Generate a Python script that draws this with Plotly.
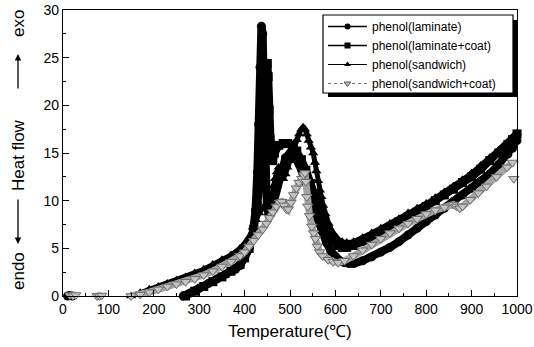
import plotly.graph_objects as go

# ---------------- data ----------------
lam_T = [265, 280, 300, 320, 340, 360, 380, 390, 400, 410, 418, 424, 428, 431, 434, 437, 440, 442, 444, 446,
         449, 453, 458, 465, 472, 480, 490, 500, 510, 520, 530, 540, 550, 560, 570, 580, 590, 600, 610, 620,
         630, 640, 660, 680, 700, 720, 740, 760, 780, 800, 820, 840, 860, 880, 900, 920, 940, 960, 980, 990, 1000]
lam_V = [0.0, 0.3, 0.8, 1.3, 1.8, 2.3, 2.8, 3.2, 4.0, 5.0, 6.5, 9.0, 13.0, 18.0, 24.0, 28.3, 27.5, 22.0, 16.0, 12.0,
         9.5, 8.6, 8.8, 10.0, 11.5, 13.0, 14.5, 15.0, 14.6, 13.8, 12.6, 11.3, 9.8, 8.2, 6.8, 5.6, 4.7, 4.1, 3.7, 3.5,
         3.4, 3.4, 3.7, 4.1, 4.6, 5.1, 5.7, 6.4, 7.1, 7.8, 8.5, 9.2, 9.9, 10.6, 11.3, 12.0, 12.8, 13.8, 14.9, 15.5, 16.3]

lamc_T = [270, 290, 310, 330, 350, 370, 390, 400, 410, 420, 428, 436, 441, 444, 447, 450, 452, 454, 456, 458,
          462, 466, 475, 485, 495, 505, 515, 525, 535, 545, 555, 565, 575, 585, 595, 605, 615, 625, 640, 660,
          680, 700, 720, 740, 760, 780, 800, 820, 840, 860, 880, 900, 920, 940, 960, 980, 990, 1000]
lamc_V = [0.0, 0.5, 1.0, 1.5, 2.0, 2.6, 3.3, 4.0, 5.0, 7.0, 9.5, 12.5, 16.0, 20.0, 23.5, 24.4, 23.0, 19.5, 16.5, 15.2,
          14.2, 15.0, 15.8, 16.0, 16.0, 15.8, 15.2, 14.3, 13.2, 11.8, 10.3, 8.8, 7.4, 6.4, 5.7, 5.3, 5.1, 5.1, 5.3, 5.7,
          6.2, 6.7, 7.2, 7.8, 8.3, 8.8, 9.4, 10.0, 10.6, 11.2, 11.9, 12.5, 13.3, 14.2, 15.0, 15.9, 16.4, 17.0]

sw_T = [150, 170, 190, 210, 230, 250, 270, 290, 310, 330, 350, 370, 390, 400, 410, 418, 425, 432, 440, 448,
        455, 460, 463, 467, 471, 475, 480, 485, 490, 494, 500, 505, 510, 515, 520, 525, 529, 533, 537, 541,
        546, 551, 555, 558, 562, 566, 569, 573, 578, 585, 595, 605, 615, 625, 640, 660, 680, 700, 720, 740,
        760, 780, 800, 820, 840, 860, 880, 900, 920, 940, 960, 980, 990, 1000]
sw_V = [0.0, 0.35, 0.7, 1.0, 1.3, 1.65, 2.0, 2.4, 2.8, 3.3, 3.8, 4.3, 5.0, 5.5, 6.2, 7.2, 8.0, 8.7, 9.2, 9.6,
        10.0, 10.5, 11.5, 12.3, 13.0, 13.5, 13.2, 12.3, 12.8, 13.5, 14.2, 14.9, 15.7, 16.4, 17.0, 17.5, 17.7, 17.5, 17.0, 16.3,
        15.6, 15.0, 14.0, 13.1, 12.1, 11.1, 10.4, 9.5, 8.6, 7.6, 6.6, 6.0, 5.7, 5.6, 5.7, 6.1, 6.6, 7.1, 7.6, 8.1,
        8.7, 9.2, 9.7, 10.3, 10.9, 11.5, 12.2, 12.9, 13.7, 14.5, 15.3, 16.1, 16.6, 17.1]

swc_T = [15, 22, 28, None, 75, 80, 85, None, 150, 170, 190, 210, 230, 250, 270, 290, 310, 330, 350, 370,
         390, 400, 410, 420, 430, 440, 448, 455, 462, 470, 477, 482, 487, 492, 496, 502, 508, 514, 520, 526,
         530, 533, 535, 537, 539, 543, 548, 552, 556, 560, 565, 572, 584, 595, 606, 620, 640, 660, 680, 700,
         720, 740, 760, 780, 800, 820, 840, 860, 867, 874, 880, 897, 915, 933, 955, 978, 990, None, 993]
swc_V = [0.1, 0.0, 0.1, None, 0.0, 0.0, 0.05, None, 0.0, 0.15, 0.4, 0.7, 1.0, 1.25, 1.5, 1.8, 2.2, 2.6, 3.1, 3.6,
         4.2, 4.6, 5.2, 5.8, 6.4, 7.0, 7.6, 8.2, 8.8, 9.4, 9.8, 9.9, 9.5, 9.1, 9.1, 9.8, 10.6, 11.3, 11.9, 12.3,
         12.7, 12.9, 12.0, 10.4, 9.4, 8.4, 7.3, 6.6, 6.0, 5.2, 4.6, 4.2, 3.8, 3.6, 3.5, 3.7, 4.2, 4.8, 5.4, 6.0,
         6.6, 7.1, 7.6, 8.1, 8.6, 9.0, 9.3, 9.6, 9.4, 9.2, 9.4, 10.1, 10.8, 11.5, 12.5, 13.5, 14.0, None, 12.3]

low_T = [10, 15, 20]
low_V = [0.0, 0.05, 0.0]

names = ["phenol(laminate)", "phenol(laminate+coat)", "phenol(sandwich)", "phenol(sandwich+coat)"]
x_ticks = [0, 100, 200, 300, 400, 500, 600, 700, 800, 900, 1000]
y_ticks = [0, 5, 10, 15, 20, 25, 30]

FONT = "Liberation Sans, Arial, sans-serif"

fig = go.Figure()

# data traces
fig.add_trace(go.Scatter(x=low_T, y=low_V, mode="markers",
                         marker=dict(symbol="circle", color="black", size=9),
                         showlegend=False, cliponaxis=False))
fig.add_trace(go.Scatter(x=lam_T, y=lam_V, mode="lines+markers", line=dict(color="black", width=8),
                         marker=dict(symbol="circle", color="black", size=9), showlegend=False, cliponaxis=False))
fig.add_trace(go.Scatter(x=lamc_T, y=lamc_V, mode="lines+markers", line=dict(color="black", width=8),
                         marker=dict(symbol="square", color="black", size=9), showlegend=False, cliponaxis=False))
fig.add_trace(go.Scatter(x=sw_T, y=sw_V, mode="lines+markers", line=dict(color="black", width=5),
                         marker=dict(symbol="triangle-up", color="black", size=9), showlegend=False, cliponaxis=False))
fig.add_trace(go.Scatter(x=swc_T, y=swc_V, mode="lines+markers", line=dict(color="#a4a4a4", width=7),
                         marker=dict(symbol="triangle-down", color="#c4c4c4", size=9,
                                     line=dict(color="#6a6a6a", width=1)),
                         showlegend=False, cliponaxis=False))

# legend entries
fig.add_trace(go.Scatter(x=[None], y=[None], mode="lines+markers", name=names[0],
                         line=dict(color="black", width=1.5), marker=dict(symbol="circle", color="black", size=6)))
fig.add_trace(go.Scatter(x=[None], y=[None], mode="lines+markers", name=names[1],
                         line=dict(color="black", width=1.5), marker=dict(symbol="square", color="black", size=6)))
fig.add_trace(go.Scatter(x=[None], y=[None], mode="lines+markers", name=names[2],
                         line=dict(color="black", width=1), marker=dict(symbol="triangle-up", color="black", size=6)))
fig.add_trace(go.Scatter(x=[None], y=[None], mode="lines+markers", name=names[3],
                         line=dict(color="#777", width=1, dash="dot"),
                         marker=dict(symbol="triangle-down", color="#bbb", size=6, line=dict(color="#555", width=1))))

axis_common = dict(showline=True, linecolor="black", linewidth=1.3, mirror=True, ticks="inside",
                   ticklen=6, tickwidth=1.2, tickcolor="black", showgrid=False, zeroline=False,
                   automargin=False, tickfont=dict(family=FONT, size=14, color="black"))

fig.update_xaxes(range=[0, 1000], tickvals=x_ticks, ticktext=[str(v) for v in x_ticks],
                 minor=dict(ticks="inside", ticklen=3, tickwidth=1, tickcolor="black", dtick=50),
                 **axis_common)
fig.update_yaxes(range=[0, 30], tickvals=y_ticks, ticktext=[str(v) for v in y_ticks],
                 minor=dict(ticks="inside", ticklen=3, tickwidth=1, tickcolor="black", dtick=2.5),
                 **axis_common)

PL, PR, PT, PB = 63, 517, 10, 296
def px(x):
    return (x - PL) / (PR - PL)
def py(y):
    return (PB - y) / (PB - PT)

# legend box with drop shadow
fig.add_shape(type="rect", xref="paper", yref="paper", x0=px(328), x1=px(518), y0=py(97), y1=py(20),
              fillcolor="black", line=dict(width=0), layer="above")
fig.add_shape(type="rect", xref="paper", yref="paper", x0=px(323), x1=px(513), y0=py(93), y1=py(15),
              fillcolor="white", line=dict(color="black", width=1.2), layer="above")

# axis titles
tfont = dict(family=FONT, size=17, color="black")
fig.add_annotation(xref="paper", yref="paper", x=px(290), y=py(331), text="Temperature(℃)", showarrow=False,
                   xanchor="center", yanchor="middle", font=tfont)
ytx = px(18)
fig.add_annotation(xref="paper", yref="paper", x=ytx, y=py(24), text="exo", textangle=-90, showarrow=False,
                   xanchor="center", yanchor="middle", font=tfont)
fig.add_annotation(xref="paper", yref="paper", x=ytx, y=py(155), text="Heat flow", textangle=-90, showarrow=False,
                   xanchor="center", yanchor="middle", font=tfont)
fig.add_annotation(xref="paper", yref="paper", x=ytx, y=py(271), text="endo", textangle=-90, showarrow=False,
                   xanchor="center", yanchor="middle", font=tfont)
fig.add_annotation(xref="paper", yref="paper", x=ytx, y=py(54), text="", showarrow=True, ax=0, ay=36,
                   arrowhead=2, arrowsize=1, arrowwidth=1.3, arrowcolor="black")
fig.add_annotation(xref="paper", yref="paper", x=ytx, y=py(244), text="", showarrow=True, ax=0, ay=-46,
                   arrowhead=2, arrowsize=1, arrowwidth=1.3, arrowcolor="black")

fig.update_layout(
    width=534, height=347,
    margin=dict(l=63, r=17, t=10, b=51, autoexpand=False),
    paper_bgcolor="white", plot_bgcolor="white",
    font=dict(family=FONT, color="black"),
    legend=dict(x=px(323), y=py(12), xanchor="left", yanchor="top", bgcolor="rgba(0,0,0,0)",
                borderwidth=0, font=dict(family=FONT, size=12, color="black"),
                tracegroupgap=0, itemwidth=39),
)

fig.write_html("out.html")
